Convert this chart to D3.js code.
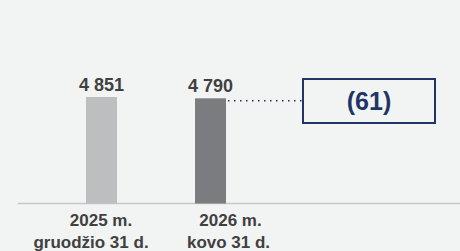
<!DOCTYPE html>
<html>
<head>
<meta charset="utf-8">
<script src="https://cdn.jsdelivr.net/npm/d3@7"></script>
<style>
  html, body { margin: 0; padding: 0; background: #f2f4f4; }
  svg { display: block; font-family: "Liberation Sans", Arial, sans-serif; }
</style>
</head>
<body>
<div id="chart"></div>
<script>
// Chart data
const categories = ["2025 m.|gruodžio 31 d.", "2026 m.|kovo 31 d."];
const values = [4851, 4790];
const valueLabels = ["4 851", "4 790"];
const changeLabel = "(61)";

const width = 460, height = 251;
const barColors = ["#bdbec0", "#7b7c80"];
const navy = "#1f3566";

const svg = d3.select("#chart")
  .append("svg")
  .attr("width", width)
  .attr("height", height);

svg.append("rect")
  .attr("width", width)
  .attr("height", height)
  .attr("fill", "#f2f4f4");

// Scales
const x = d3.scalePoint()
  .domain(categories)
  .range([101.5, 210.5]);

const y = d3.scaleLinear()
  .domain([0, d3.max(values)])
  .range([203.5, 97]);

const barW = 31;

// Baseline
svg.append("line")
  .attr("x1", 18)
  .attr("x2", width)
  .attr("y1", y(0))
  .attr("y2", y(0))
  .attr("stroke", "#c6c7c8")
  .attr("stroke-width", 1.5);

// Bars
svg.append("g")
  .selectAll("rect")
  .data(values)
  .join("rect")
  .attr("x", (d, i) => x(categories[i]) - barW / 2)
  .attr("y", d => y(d))
  .attr("width", barW)
  .attr("height", d => y(0) - y(d))
  .attr("fill", (d, i) => barColors[i]);

// Value labels
svg.append("g")
  .selectAll("text")
  .data(values)
  .join("text")
  .attr("x", (d, i) => x(categories[i]))
  .attr("y", d => y(d) - 6)
  .attr("text-anchor", "middle")
  .attr("font-size", 18)
  .attr("font-weight", "bold")
  .attr("fill", "#404040")
  .text((d, i) => valueLabels[i]);

// Category labels (two lines each)
const lineShift = [[-0.5, -10.5], [20, 18]];
const catG = svg.append("g");
categories.forEach((c, i) => {
  c.split("|").forEach((line, j) => {
    catG.append("text")
      .attr("x", x(c) + lineShift[i][j])
      .attr("y", 225.5 + j * 22)
      .attr("text-anchor", "middle")
      .attr("font-size", 17)
      .attr("font-weight", "bold")
      .attr("fill", "#404040")
      .text(line);
  });
});

// Change box with dotted connector
const boxX = 303, boxY = 79, boxW = 132, boxH = 44;
const lastI = values.length - 1;

svg.append("line")
  .attr("x1", x(categories[lastI]) + barW / 2 + 2)
  .attr("x2", boxX)
  .attr("y1", y(values[lastI]) + 2.5)
  .attr("y2", y(values[lastI]) + 2.5)
  .attr("stroke", navy)
  .attr("stroke-width", 1.5)
  .attr("stroke-dasharray", "1.5,4.5");

svg.append("rect")
  .attr("x", boxX)
  .attr("y", boxY)
  .attr("width", boxW)
  .attr("height", boxH)
  .attr("fill", "none")
  .attr("stroke", navy)
  .attr("stroke-width", 2);

svg.append("text")
  .attr("x", boxX + boxW / 2)
  .attr("y", boxY + boxH / 2)
  .attr("dy", "0.36em")
  .attr("text-anchor", "middle")
  .attr("font-size", 25)
  .attr("font-weight", "bold")
  .attr("fill", navy)
  .text(changeLabel);
</script>
</body>
</html>
